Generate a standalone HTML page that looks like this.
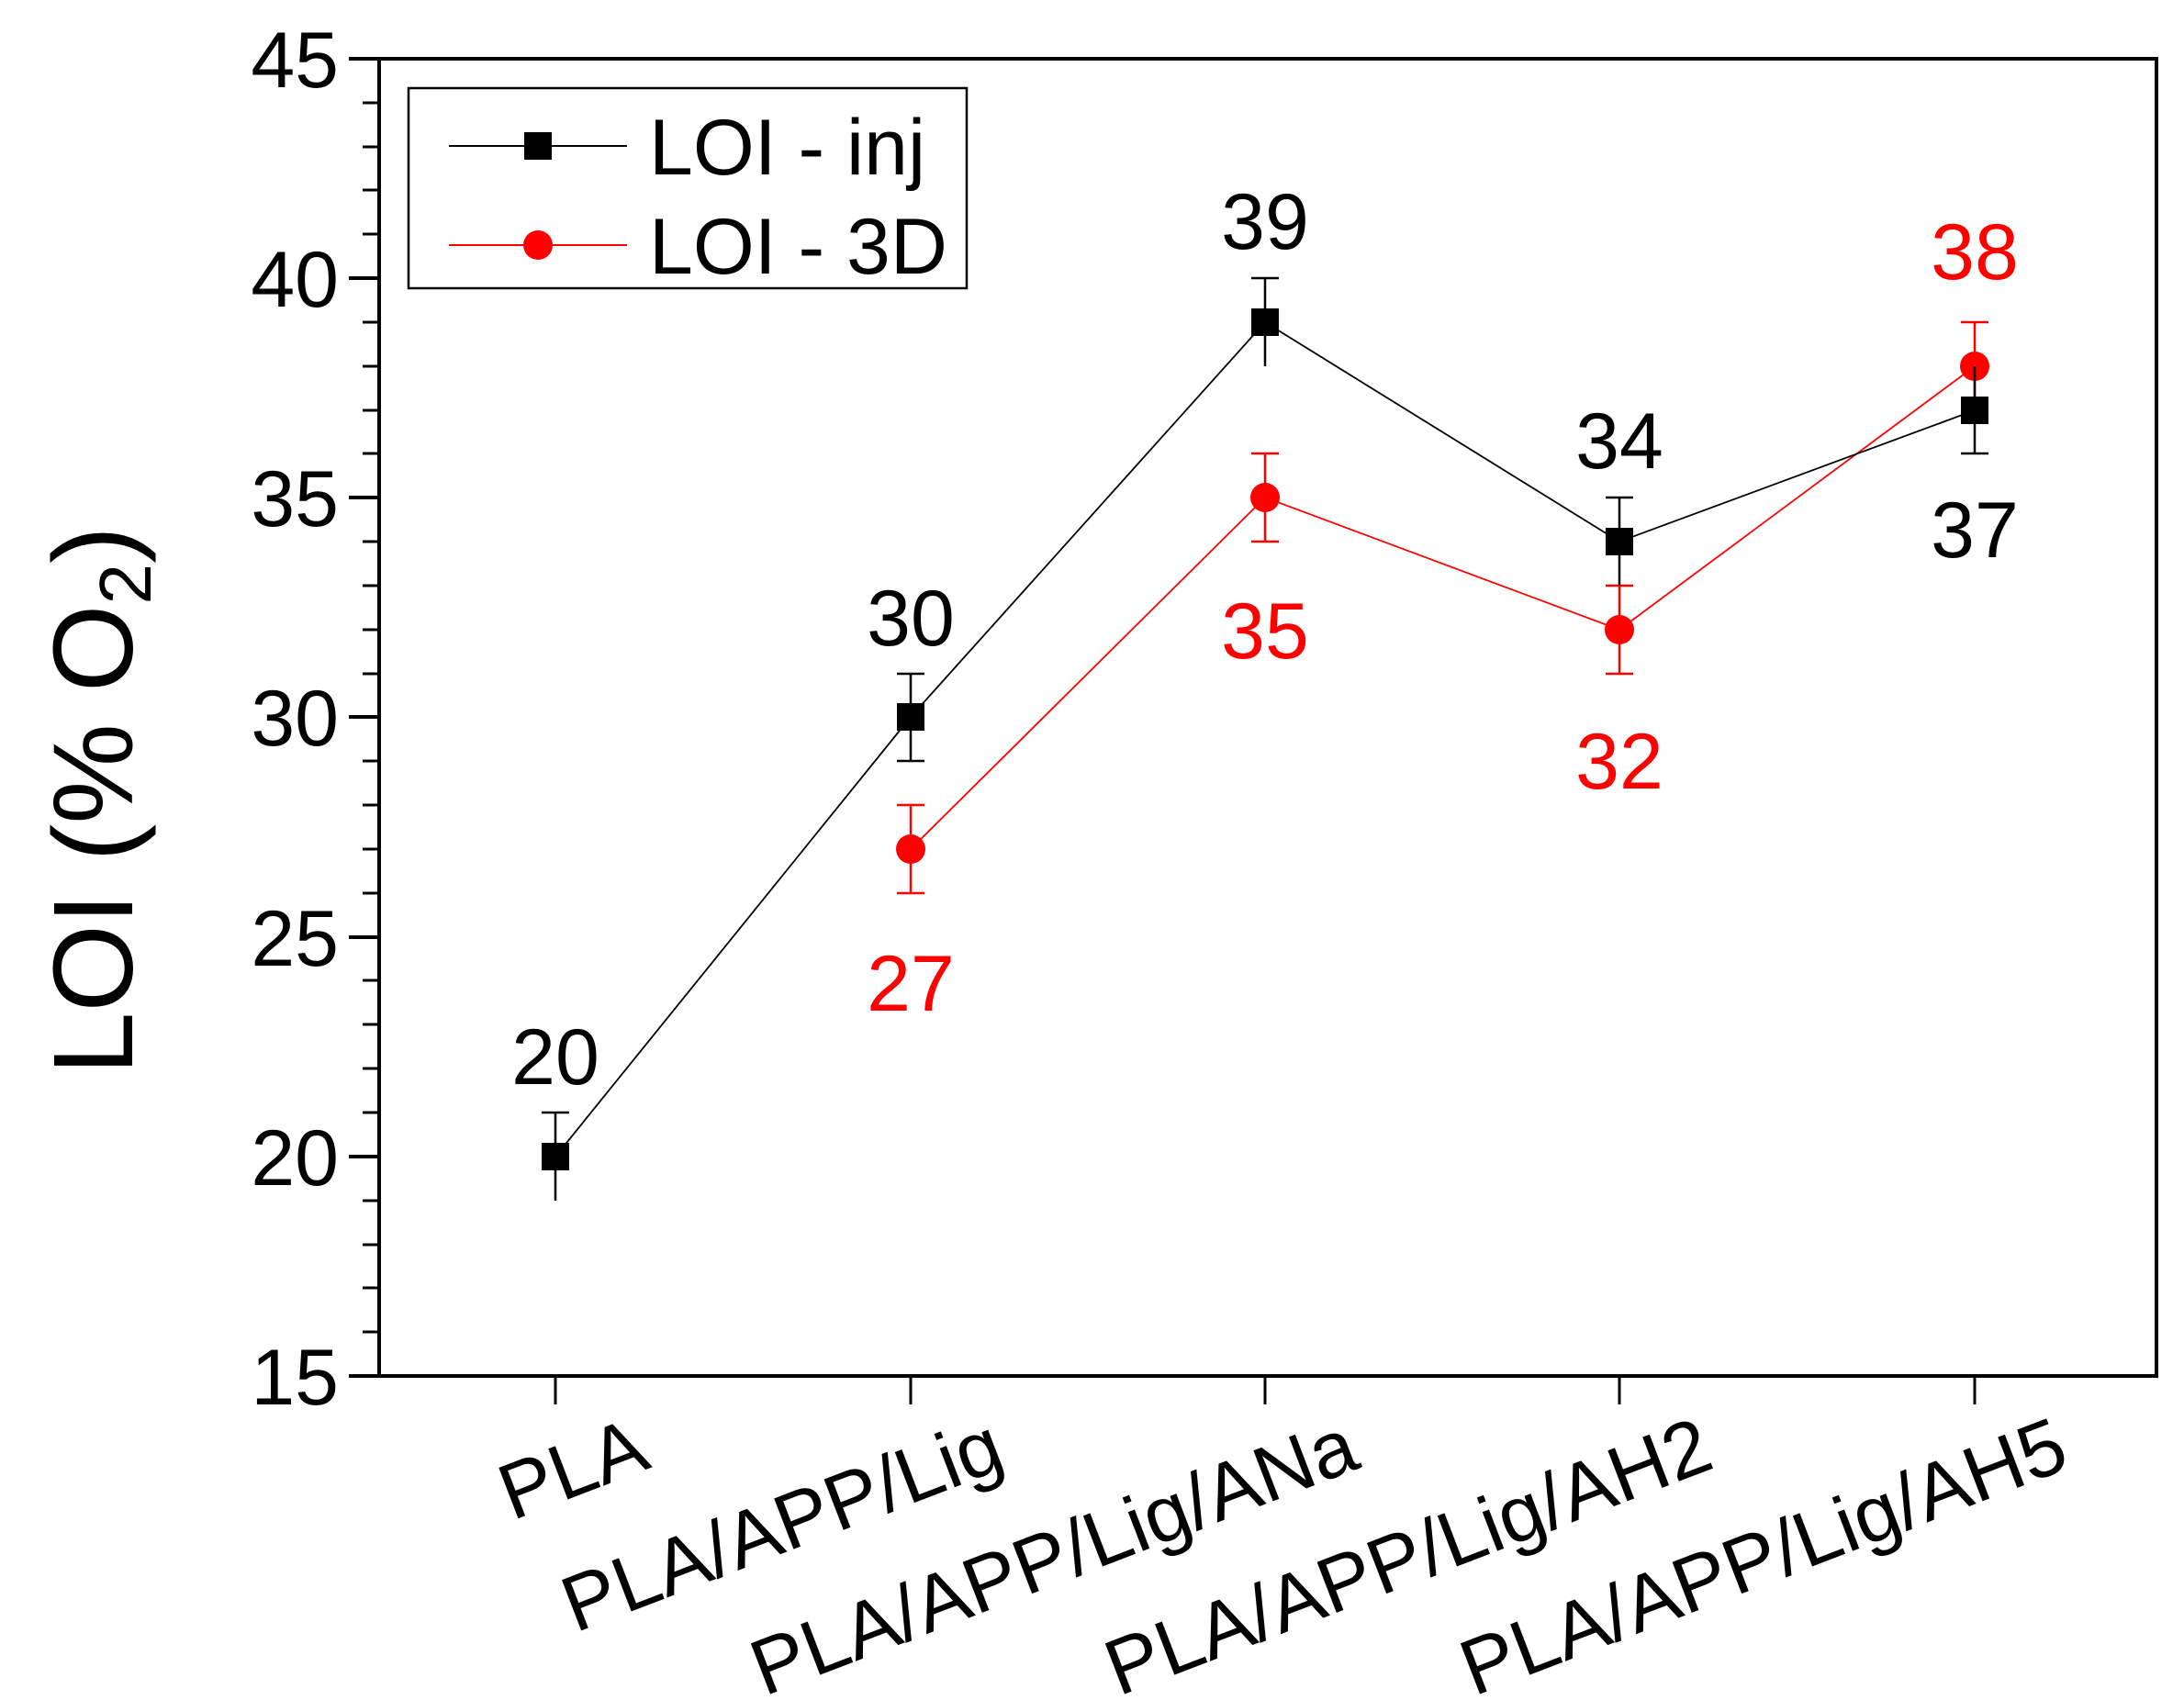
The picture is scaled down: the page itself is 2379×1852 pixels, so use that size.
<!DOCTYPE html>
<html><head><meta charset="utf-8"><style>html,body{margin:0;padding:0;background:#fff}</style></head>
<body>
<svg width="2379" height="1847" viewBox="0 0 2379 1847" xmlns="http://www.w3.org/2000/svg" font-family="Liberation Sans, Arial, sans-serif">
<rect width="2379" height="1847" fill="#fff"/>
<rect x="413" y="64" width="1936" height="1435" fill="none" stroke="#000" stroke-width="4"/>
<g stroke="#000" stroke-width="4">
<line x1="380" y1="64" x2="413" y2="64"/>
<line x1="380" y1="303" x2="413" y2="303"/>
<line x1="380" y1="542" x2="413" y2="542"/>
<line x1="380" y1="781" x2="413" y2="781"/>
<line x1="380" y1="1021" x2="413" y2="1021"/>
<line x1="380" y1="1260" x2="413" y2="1260"/>
<line x1="380" y1="1499" x2="413" y2="1499"/>
</g>
<g stroke="#000" stroke-width="3">
<line x1="395" y1="112" x2="413" y2="112"/><line x1="395" y1="160" x2="413" y2="160"/><line x1="395" y1="207" x2="413" y2="207"/><line x1="395" y1="255" x2="413" y2="255"/>
<line x1="395" y1="351" x2="413" y2="351"/><line x1="395" y1="399" x2="413" y2="399"/><line x1="395" y1="447" x2="413" y2="447"/><line x1="395" y1="494" x2="413" y2="494"/>
<line x1="395" y1="590" x2="413" y2="590"/><line x1="395" y1="638" x2="413" y2="638"/><line x1="395" y1="686" x2="413" y2="686"/><line x1="395" y1="734" x2="413" y2="734"/>
<line x1="395" y1="829" x2="413" y2="829"/><line x1="395" y1="877" x2="413" y2="877"/><line x1="395" y1="925" x2="413" y2="925"/><line x1="395" y1="973" x2="413" y2="973"/>
<line x1="395" y1="1068" x2="413" y2="1068"/><line x1="395" y1="1116" x2="413" y2="1116"/><line x1="395" y1="1164" x2="413" y2="1164"/><line x1="395" y1="1212" x2="413" y2="1212"/>
<line x1="395" y1="1308" x2="413" y2="1308"/><line x1="395" y1="1356" x2="413" y2="1356"/><line x1="395" y1="1403" x2="413" y2="1403"/><line x1="395" y1="1451" x2="413" y2="1451"/>
</g>
<g stroke="#000" stroke-width="3">
<line x1="605" y1="1499" x2="605" y2="1530"/><line x1="992" y1="1499" x2="992" y2="1530"/><line x1="1378" y1="1499" x2="1378" y2="1530"/><line x1="1764" y1="1499" x2="1764" y2="1530"/><line x1="2151" y1="1499" x2="2151" y2="1530"/>
</g>
<g font-size="86" text-anchor="end" fill="#000">
<text x="369" y="95">45</text><text x="369" y="334">40</text><text x="369" y="573">35</text><text x="369" y="812">30</text><text x="369" y="1052">25</text><text x="369" y="1291">20</text><text x="369" y="1530">15</text>
</g>
<text transform="translate(144,872) rotate(-90)" font-size="123" text-anchor="middle">LOI (% O<tspan font-size="80" dy="20">2</tspan><tspan dy="-20">)</tspan></text>
<g font-size="86" text-anchor="end">
<text transform="translate(711,1598) rotate(-21)" textLength="164" lengthAdjust="spacingAndGlyphs">PLA</text>
<text transform="translate(1098,1598) rotate(-21)" textLength="505" lengthAdjust="spacingAndGlyphs">PLA/APP/Lig</text>
<text transform="translate(1484,1598) rotate(-21)" textLength="698" lengthAdjust="spacingAndGlyphs">PLA/APP/Lig/ANa</text>
<text transform="translate(1870,1598) rotate(-21)" textLength="698" lengthAdjust="spacingAndGlyphs">PLA/APP/Lig/AH2</text>
<text transform="translate(2257,1598) rotate(-21)" textLength="698" lengthAdjust="spacingAndGlyphs">PLA/APP/Lig/AH5</text>
</g>
<polyline points="992,925 1378,542 1764,686 2151,399" fill="none" stroke="#f00" stroke-width="1.8"/>
<g stroke="#f00" stroke-width="2.5">
<line x1="992" y1="877" x2="992" y2="973"/><line x1="977" y1="877" x2="1007" y2="877"/><line x1="977" y1="973" x2="1007" y2="973"/>
<line x1="1378" y1="494" x2="1378" y2="590"/><line x1="1363" y1="494" x2="1393" y2="494"/><line x1="1363" y1="590" x2="1393" y2="590"/>
<line x1="1764" y1="638" x2="1764" y2="734"/><line x1="1749" y1="638" x2="1779" y2="638"/><line x1="1749" y1="734" x2="1779" y2="734"/>
<line x1="2151" y1="351" x2="2151" y2="447"/><line x1="2136" y1="351" x2="2166" y2="351"/><line x1="2136" y1="447" x2="2166" y2="447"/>
</g>
<g fill="#f00"><circle cx="992" cy="925" r="16"/><circle cx="1378" cy="542" r="16"/><circle cx="1764" cy="686" r="16"/><circle cx="2151" cy="399" r="16"/></g>
<polyline points="605,1260 992,781 1378,351 1764,590 2151,447" fill="none" stroke="#000" stroke-width="1.8"/>
<g stroke="#000" stroke-width="2.5">
<line x1="605" y1="1212" x2="605" y2="1308"/><line x1="590" y1="1212" x2="620" y2="1212"/>
<line x1="992" y1="734" x2="992" y2="829"/><line x1="977" y1="734" x2="1007" y2="734"/><line x1="977" y1="829" x2="1007" y2="829"/>
<line x1="1378" y1="303" x2="1378" y2="399"/><line x1="1363" y1="303" x2="1393" y2="303"/>
<line x1="1764" y1="542" x2="1764" y2="638"/><line x1="1749" y1="542" x2="1779" y2="542"/>
<line x1="2151" y1="399" x2="2151" y2="494"/><line x1="2136" y1="494" x2="2166" y2="494"/>
</g>
<g fill="#000"><rect x="590" y="1245" width="30" height="30"/><rect x="977" y="766" width="30" height="30"/><rect x="1363" y="336" width="30" height="30"/><rect x="1749" y="575" width="30" height="30"/><rect x="2136" y="432" width="30" height="30"/></g>
<g font-size="86" text-anchor="middle" fill="#000">
<text x="605" y="1181">20</text><text x="992" y="703">30</text><text x="1378" y="271">39</text><text x="1764" y="510">34</text><text x="2151" y="607">37</text>
</g>
<g font-size="86" text-anchor="middle" fill="#f00">
<text x="992" y="1101">27</text><text x="1378" y="717">35</text><text x="1764" y="859">32</text><text x="2151" y="304">38</text>
</g>
<rect x="445" y="96" width="608" height="218" fill="#fff" stroke="#000" stroke-width="2.5"/>
<line x1="489" y1="159" x2="683" y2="159" stroke="#000" stroke-width="2"/>
<rect x="571" y="144" width="30" height="30" fill="#000"/>
<line x1="489" y1="267" x2="683" y2="267" stroke="#f00" stroke-width="2"/>
<circle cx="586" cy="267" r="16" fill="#f00"/>
<text x="707" y="190" font-size="86">LOI - inj</text>
<text x="707" y="298" font-size="86">LOI - 3D</text>
</svg>
</body></html>
